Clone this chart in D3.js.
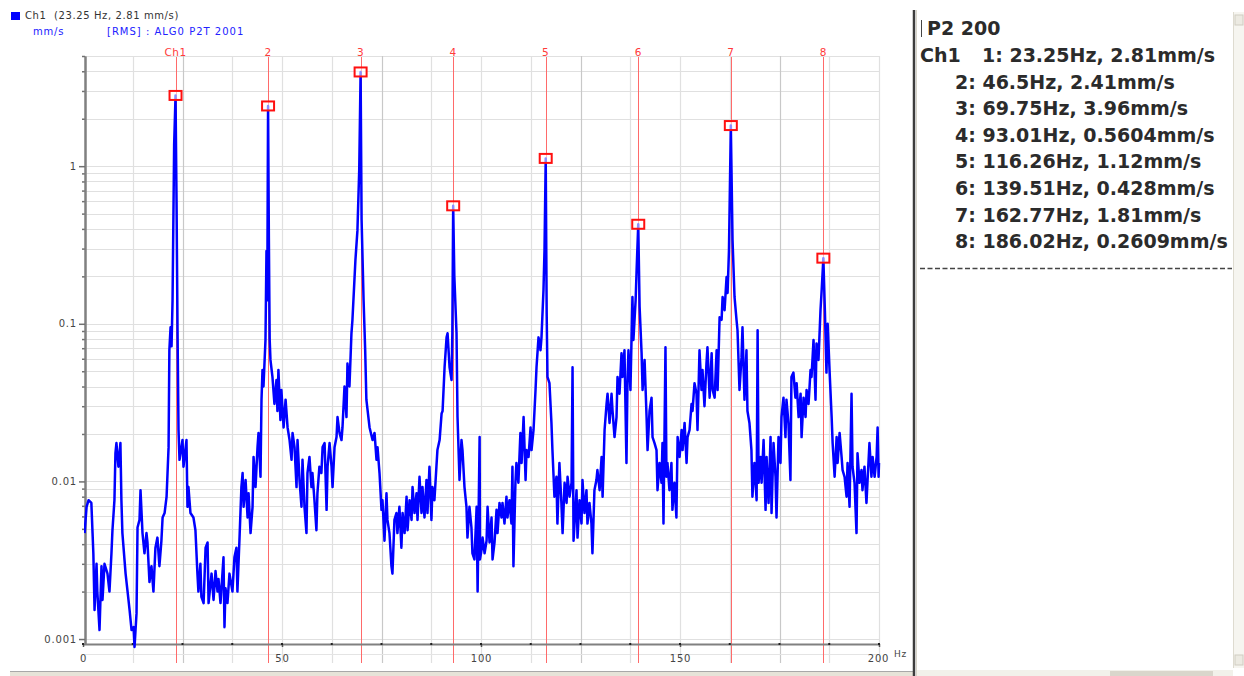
<!DOCTYPE html>
<html><head><meta charset="utf-8">
<script src="https://cdn.jsdelivr.net/npm/d3@7"></script>
<style>
html,body{margin:0;padding:0;background:#fff;}
svg{display:block;}
</style></head><body>
<svg id="c" width="1244" height="676"></svg>
<script>
// ---- spectrum data (Hz, mm/s RMS) ----
const freqHz = [
0.4,0.9,1.4,2.1,2.4,2.6,2.9,3.4,3.6,4.15,
4.65,4.9,5.4,6.15,6.65,7.15,7.4,7.9,8.15,8.4,
8.9,9.4,9.65,9.9,10.7,11.2,11.7,12.2,12.7,12.95,
13.45,13.7,14.2,14.45,14.95,15.45,15.95,16.2,16.7,17.2,
17.7,18.2,18.7,19.2,19.7,20.0,20.5,21.0,21.5,21.7,
22.0,22.25,22.5,22.9,23.25,23.5,23.75,24.0,24.25,25.0,
25.25,26.0,26.25,26.5,27.0,27.75,28.25,28.75,29.0,29.5,
29.75,30.3,30.8,31.3,31.55,32.3,32.8,33.3,33.8,34.05,
34.55,35.3,35.55,35.8,36.3,36.8,37.55,38.05,38.55,38.8,
39.3,39.8,40.1,40.35,40.85,41.35,41.6,42.1,42.6,42.85,
43.35,43.85,44.1,44.6,44.85,45.1,45.35,45.85,46.1,46.3,
46.5,46.7,46.9,47.1,47.6,48.1,48.6,48.85,49.1,49.6,
49.85,50.4,50.9,51.4,51.9,52.4,52.65,53.15,53.65,53.9,
54.4,54.9,55.15,55.65,56.15,56.4,56.9,57.4,57.65,58.15,
58.65,58.9,59.4,59.9,60.2,60.7,61.2,61.45,61.95,62.45,
62.7,63.2,63.7,63.95,64.45,64.95,65.2,65.7,66.2,66.45,
66.95,67.45,67.7,68.2,68.45,68.95,69.4,69.75,70.0,70.25,
70.5,70.9,71.2,72.0,72.75,73.25,73.75,74.0,74.5,75.0,
75.25,75.75,76.25,76.5,77.0,77.5,77.75,78.25,78.75,79.0,
79.5,80.0,80.3,80.8,81.3,81.55,82.05,82.55,82.8,83.3,
83.8,84.05,84.55,85.05,85.3,85.8,86.3,86.55,87.05,87.55,
87.8,88.3,88.8,89.05,89.6,90.1,90.35,90.85,91.35,91.6,
92.1,92.6,92.8,93.01,93.3,93.85,94.1,94.6,95.1,95.35,
95.85,96.35,96.6,97.1,97.6,97.85,98.35,98.9,99.15,99.65,
99.75,100.15,100.4,100.9,101.4,101.65,102.15,102.65,102.9,103.4,
103.9,104.15,104.65,105.15,105.4,105.9,106.4,106.65,107.15,107.65,
107.9,108.15,108.65,108.9,109.4,109.9,110.2,110.7,111.2,111.45,
111.95,112.45,112.7,113.2,113.7,113.95,114.45,114.95,115.2,115.7,
115.95,116.26,116.5,116.7,117.2,117.7,117.95,118.45,118.95,119.2,
119.7,120.2,120.5,121.0,121.5,121.75,122.25,122.75,123.0,123.25,
124.0,124.25,124.75,125.25,125.5,126.0,126.5,126.75,127.25,127.75,
128.0,128.5,129.0,129.25,129.8,130.3,130.55,131.05,131.55,131.8,
132.3,132.8,133.05,133.55,134.05,134.3,134.8,135.3,135.55,136.05,
136.55,136.8,137.05,137.55,138.05,138.3,138.85,139.1,139.51,139.85,
140.35,140.6,141.1,141.6,141.85,142.35,142.85,143.1,143.6,144.1,
144.35,144.85,145.35,145.6,145.85,146.35,146.6,146.85,147.35,147.85,
148.1,148.6,149.1,149.4,149.9,150.4,150.65,151.15,151.65,151.9,
152.4,152.9,153.15,153.65,154.15,154.4,154.9,155.4,155.65,156.15,
156.65,156.9,157.45,157.95,158.2,158.7,159.2,159.45,159.95,160.45,
160.7,161.2,161.7,161.95,162.3,162.77,163.2,163.7,164.2,164.45,
164.95,165.45,165.7,166.2,166.7,166.95,167.45,167.95,168.2,168.7,
169.25,169.5,169.75,170.25,170.5,171.0,171.5,171.75,172.25,172.75,
173.0,173.5,174.0,174.25,174.75,175.25,175.5,176.0,176.5,176.75,
177.25,177.75,178.0,178.5,179.0,179.3,179.8,180.3,180.55,181.05,
181.55,181.8,182.3,182.8,183.05,183.55,184.05,184.3,184.8,185.3,
185.6,186.02,186.4,186.8,187.1,187.6,188.1,188.35,188.85,189.35,
189.6,190.1,190.6,190.85,191.35,191.85,192.1,192.6,193.1,193.35,
193.85,194.35,194.6,195.1,195.6,195.85,196.35,196.85,197.1,197.6,
198.1,198.4,198.9,199.4,199.65,199.9,200.0
];
const velMmS = [
0.0047,0.0069,0.0076,0.0073,0.0047,0.0035,0.00153,0.0030,0.0020,0.00114,
0.0029,0.00177,0.0030,0.0026,0.0020,0.0035,0.0049,0.0076,0.0151,0.0175,
0.0124,0.0175,0.0076,0.0047,0.0026,0.0020,0.00153,0.00114,0.00119,0.00089,
0.00146,0.0051,0.0057,0.0088,0.0047,0.0035,0.0047,0.0041,0.0023,0.0029,
0.0020,0.0038,0.0044,0.0029,0.0042,0.0059,0.0063,0.0080,0.0165,0.068,
0.095,0.072,0.141,1.36,2.81,0.61,0.091,0.0212,0.0137,0.0183,
0.0124,0.0183,0.0069,0.0092,0.0063,0.0059,0.0049,0.0026,0.0020,0.0030,
0.00185,0.00169,0.0038,0.0041,0.00169,0.0026,0.00177,0.0027,0.0020,0.0024,
0.00169,0.0033,0.00119,0.0021,0.00169,0.0026,0.0020,0.0033,0.0038,0.0020,
0.0042,0.0092,0.0113,0.0069,0.0102,0.0059,0.0084,0.0047,0.0069,0.0143,
0.0092,0.0165,0.0203,0.0107,0.033,0.051,0.040,0.079,0.29,0.141,
2.41,0.35,0.08,0.059,0.046,0.031,0.044,0.028,0.051,0.0245,
0.038,0.022,0.033,0.022,0.0183,0.0137,0.0203,0.0165,0.0092,0.0183,
0.0102,0.0069,0.0137,0.0069,0.0047,0.0113,0.0143,0.0092,0.0113,0.0076,
0.0049,0.0084,0.0124,0.0113,0.0165,0.0175,0.0066,0.0124,0.0175,0.0124,
0.0092,0.0165,0.0191,0.0256,0.0203,0.0183,0.022,0.040,0.0256,0.056,
0.040,0.087,0.106,0.19,0.254,0.39,0.94,3.96,0.455,0.254,
0.141,0.068,0.033,0.022,0.0183,0.0203,0.0137,0.0165,0.0113,0.0066,
0.0076,0.0042,0.0084,0.0057,0.0047,0.0029,0.0026,0.0057,0.0063,0.0047,
0.0069,0.0038,0.0063,0.0047,0.0080,0.0049,0.0076,0.0057,0.0092,0.0063,
0.0084,0.0057,0.0107,0.0063,0.0092,0.0059,0.0102,0.0063,0.0124,0.0057,
0.0092,0.0076,0.0124,0.0158,0.0183,0.027,0.028,0.053,0.082,0.087,
0.053,0.044,0.087,0.5604,0.2,0.087,0.0256,0.0102,0.0183,0.0158,
0.0092,0.0069,0.0044,0.0069,0.0051,0.0035,0.0032,0.0069,0.0020,0.0191,
0.0032,0.0037,0.0044,0.0035,0.0042,0.0069,0.0041,0.0059,0.0032,0.0041,
0.0066,0.0047,0.0073,0.0059,0.0073,0.0054,0.0080,0.0059,0.0076,0.0054,
0.0124,0.0029,0.0098,0.0131,0.0098,0.0203,0.0131,0.0256,0.0102,0.0158,
0.0143,0.022,0.0158,0.0212,0.038,0.053,0.082,0.068,0.082,0.164,
0.29,1.12,0.117,0.046,0.042,0.0235,0.0158,0.0080,0.0107,0.0054,
0.0131,0.0073,0.0047,0.0098,0.0073,0.0107,0.0080,0.0098,0.053,0.0042,
0.0088,0.0044,0.0076,0.0054,0.0102,0.0063,0.0088,0.0054,0.0073,0.0054,
0.0035,0.0088,0.0102,0.0118,0.0088,0.0143,0.0080,0.0212,0.031,0.036,
0.0235,0.036,0.028,0.0191,0.0256,0.046,0.036,0.065,0.046,0.068,
0.0131,0.042,0.068,0.038,0.148,0.079,0.141,0.219,0.428,0.128,
0.065,0.038,0.059,0.0256,0.0158,0.028,0.034,0.0191,0.0175,0.0158,
0.0088,0.0131,0.0098,0.0175,0.0054,0.071,0.0107,0.0131,0.0088,0.0131,
0.0066,0.0098,0.0059,0.0191,0.0143,0.0212,0.0158,0.0235,0.0131,0.0191,
0.0212,0.031,0.028,0.042,0.036,0.0212,0.068,0.038,0.051,0.030,
0.056,0.071,0.034,0.065,0.038,0.034,0.068,0.038,0.110,0.106,
0.148,0.122,0.198,0.157,0.29,1.81,0.34,0.148,0.106,0.091,
0.038,0.061,0.095,0.033,0.068,0.028,0.0235,0.0158,0.0080,0.0131,
0.0076,0.091,0.0098,0.0143,0.0098,0.0183,0.0066,0.0143,0.0073,0.0191,
0.0063,0.0175,0.0107,0.0059,0.0191,0.0131,0.0256,0.034,0.0191,0.033,
0.0235,0.0102,0.046,0.049,0.034,0.042,0.0256,0.036,0.0191,0.034,
0.0256,0.038,0.031,0.051,0.046,0.079,0.033,0.075,0.059,0.122,
0.164,0.2609,0.122,0.049,0.1,0.049,0.0256,0.0175,0.0107,0.0191,
0.0131,0.0203,0.0143,0.0118,0.0107,0.0080,0.0131,0.0069,0.036,0.0124,
0.0098,0.0047,0.0151,0.0098,0.0118,0.0088,0.0124,0.0073,0.0098,0.0175,
0.0107,0.0143,0.0107,0.0143,0.022,0.0107,0.0131
];
// ---- harmonic cursors ----
const peakLabels = ["Ch1","2","3","4","5","6","7","8"];
const peakFreqHz = [23.25,46.5,69.75,93.01,116.26,139.51,162.77,186.02];
const peakVelMmS = [2.81,2.41,3.96,0.5604,1.12,0.428,1.81,0.2609];
// ---- axes ----
const xTickValues = [0,50,100,150,200];
const xUnit = "Hz";
const yTickValues = [0.001,0.01,0.1,1];
const yTickLabels = ["0.001","0.01","0.1","1"];
// ---- texts ----
const legendMain = "Ch1  (23.25 Hz, 2.81 mm/s)";
const legendUnit = "mm/s";
const legendInfo = "[RMS] : ALG0 P2T 2001";
const panelTitle = "P2 200";
const channelName = "Ch1";

const svg = d3.select("#c");
const x = d3.scaleLinear().domain([0,200]).range([83,879]);
const y = d3.scaleLog().domain([0.00093,5]).range([644,56]);
const smallFont = "'DejaVu Sans', Verdana, sans-serif";

// grid
const grid = svg.append("g");
grid.selectAll("line.h").data(y.ticks()).join("line")
  .attr("x1",85).attr("x2",880)
  .attr("y1",d=>Math.round(y(d))+0.5).attr("y2",d=>Math.round(y(d))+0.5)
  .attr("stroke","#e0e0e0").attr("stroke-width",1.2);
const vgrid = d3.range(12.5,200.01,12.5);
grid.selectAll("line.v").data(vgrid).join("line")
  .attr("x1",d=>Math.round(x(d))+0.5).attr("x2",d=>Math.round(x(d))+0.5)
  .attr("y1",56).attr("y2",663)
  .attr("stroke",d=>(d%50===25)?"#c8c8c8":"#e0e0e0").attr("stroke-width",1.2);
grid.append("line").attr("x1",85).attr("x2",880).attr("y1",654.5).attr("y2",654.5)
  .attr("stroke","#e4e4e4");

// harmonic cursor lines
const cur = svg.append("g");
cur.selectAll("line").data(peakFreqHz).join("line")
  .attr("x1",d=>Math.round(x(d))+0.5).attr("x2",d=>Math.round(x(d))+0.5)
  .attr("y1",57).attr("y2",663)
  .attr("stroke","#ff6a6a").attr("stroke-width",1);
cur.selectAll("text").data(peakLabels).join("text")
  .attr("x",(d,i)=>x(peakFreqHz[i])).attr("y",56)
  .attr("text-anchor","middle")
  .attr("font-family",smallFont).attr("font-size",10.5).attr("letter-spacing",0.5)
  .attr("fill","#ff3a3a").text(d=>d);

// axes
const yMajor = d3.axisLeft(y).tickValues(yTickValues)
  .tickFormat((d,i)=>yTickLabels[i]).tickSize(6).tickSizeOuter(0).tickPadding(2);
const yMinor = d3.axisLeft(y).tickValues(y.ticks().filter(t=>!yTickValues.includes(t)))
  .tickFormat("").tickSize(3).tickSizeOuter(0);
const ga = svg.append("g").attr("transform","translate(85,0)");
ga.call(yMinor);
const gb = svg.append("g").attr("transform","translate(85,0)");
gb.call(yMajor);
[ga,gb].forEach(g=>{
  g.select(".domain").attr("stroke","#808080").attr("stroke-width",2);
  g.selectAll(".tick line").attr("stroke","#707070").attr("stroke-width",1.5);
  g.selectAll("text").attr("font-family",smallFont).attr("font-size",10)
    .attr("letter-spacing",0.8).attr("fill","#444");
});
const xa = d3.axisBottom(x).tickValues(xTickValues).tickSize(3).tickSizeOuter(0).tickPadding(8);
const gx = svg.append("g").attr("transform","translate(0,644)").call(xa);
gx.select(".domain").attr("stroke","#808080").attr("stroke-width",2);
gx.selectAll(".tick line").attr("stroke","#555").attr("stroke-width",1.5);
gx.selectAll("text").attr("font-family",smallFont).attr("font-size",10)
  .attr("letter-spacing",0.8).attr("fill","#444");
gx.selectAll(".tick").filter(d=>d===200).select("text").attr("dx",-1);
svg.append("g").selectAll("rect").data(d3.range(0,200.01,12.5)).join("rect")
  .attr("x",d=>x(d)-1).attr("y",643).attr("width",2).attr("height",2).attr("fill","#222");
svg.append("text").attr("x",894).attr("y",657).attr("font-family",smallFont)
  .attr("font-size",9).attr("letter-spacing",0.8).attr("fill","#444").text(xUnit);

// spectrum line
svg.append("defs").append("clipPath").attr("id","clp").append("rect")
  .attr("x",84).attr("y",40).attr("width",797).attr("height",615);
const pts = freqHz.map((f,i)=>[f,velMmS[i]]);
svg.append("path").datum(pts)
  .attr("clip-path","url(#clp)")
  .attr("d",d3.line().x(d=>x(d[0])).y(d=>y(d[1])))
  .attr("fill","none").attr("stroke","#0000ff").attr("stroke-width",2.5)
  .attr("stroke-linejoin","round");

// peak markers
svg.append("g").selectAll("rect").data(peakFreqHz).join("rect")
  .attr("x",d=>x(d)-6).attr("y",(d,i)=>y(peakVelMmS[i])-4.5)
  .attr("width",12).attr("height",9)
  .attr("fill","rgba(255,255,255,0.55)").attr("stroke","#ff1010").attr("stroke-width",2);

// legend
svg.append("rect").attr("x",11).attr("y",12).attr("width",9).attr("height",8).attr("fill","#0000ff");
svg.append("text").attr("x",25).attr("y",19).attr("font-family",smallFont).attr("font-size",10)
  .attr("letter-spacing",0.6).attr("fill","#333").attr("xml:space","preserve").text(legendMain);
svg.append("text").attr("x",33).attr("y",35).attr("font-family",smallFont).attr("font-size",10)
  .attr("letter-spacing",0.8).attr("fill","#2222ff").text(legendUnit);
svg.append("text").attr("x",107).attr("y",35).attr("font-family",smallFont).attr("font-size",10)
  .attr("letter-spacing",1).attr("fill","#2222ff").text(legendInfo);

// bottom frame bar (left pane)
svg.append("rect").attr("x",10).attr("y",671).attr("width",903).attr("height",5).attr("fill","#e6e3d8");
svg.append("line").attr("x1",10).attr("x2",913).attr("y1",671.5).attr("y2",671.5).attr("stroke","#a8a8a8");

// right panel
svg.append("line").attr("x1",914).attr("x2",914).attr("y1",10).attr("y2",676)
  .attr("stroke","#3c3c3c").attr("stroke-width",2.5);
svg.append("line").attr("x1",916.5).attr("x2",916.5).attr("y1",10).attr("y2",676)
  .attr("stroke","#d6d3c8").attr("stroke-width",1);
// scrollbars
svg.append("rect").attr("x",1233).attr("y",12).attr("width",11).attr("height",656).attr("fill","#f6f5f0");
svg.append("line").attr("x1",1233.5).attr("x2",1233.5).attr("y1",12).attr("y2",668).attr("stroke","#dedbd0");
svg.append("rect").attr("x",1235).attr("y",15).attr("width",8).attr("height",10).attr("fill","#eceae2").attr("stroke","#d0cdc2");
svg.append("rect").attr("x",1235).attr("y",655).attr("width",8).attr("height",10).attr("fill","#eceae2").attr("stroke","#d0cdc2");
svg.append("rect").attr("x",917).attr("y",670).attr("width",316).attr("height",6).attr("fill","#f2f1ea");
svg.append("rect").attr("x",1110).attr("y",671).attr("width",103).attr("height",5).attr("fill","#d9d6cb");

const bigFont = "'DejaVu Sans', Verdana, sans-serif";
svg.append("line").attr("x1",921.5).attr("x2",921.5).attr("y1",20).attr("y2",37).attr("stroke","#444");
svg.append("text").attr("x",927).attr("y",35).attr("font-family",bigFont).attr("font-weight","bold")
  .attr("font-size",19).attr("fill","#2b2b2b").text(panelTitle);
svg.append("text").attr("x",920).attr("y",62).attr("font-family",bigFont).attr("font-weight","bold")
  .attr("font-size",19).attr("fill","#2b2b2b").text(channelName);
svg.append("g").selectAll("text").data(peakFreqHz).join("text")
  .attr("x",(d,i)=>i===0?982:955).attr("y",(d,i)=>62+i*26.6)
  .attr("font-family",bigFont).attr("font-weight","bold").attr("font-size",19).attr("fill","#2b2b2b")
  .text((d,i)=>`${i+1}: ${d}Hz, ${peakVelMmS[i]}mm/s`);
svg.append("line").attr("x1",920).attr("x2",1232).attr("y1",268.5).attr("y2",268.5)
  .attr("stroke","#444").attr("stroke-width",1.5).attr("stroke-dasharray","5,2.5");
</script>
</body></html>
